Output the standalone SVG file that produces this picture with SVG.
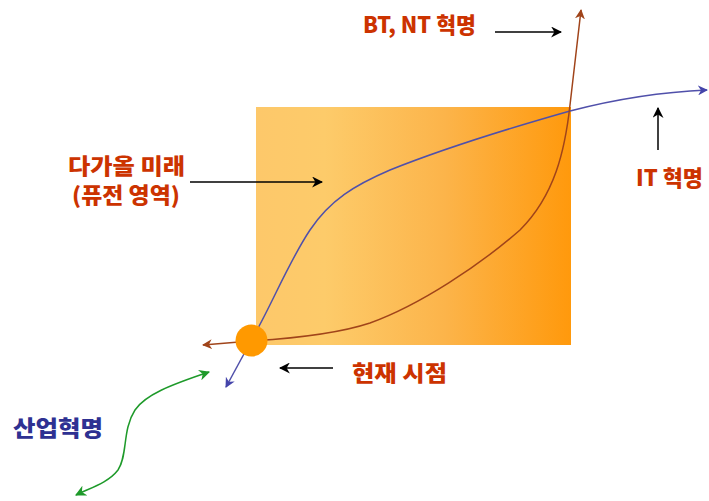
<svg xmlns="http://www.w3.org/2000/svg" width="709" height="501" viewBox="0 0 709 501">
<defs>
<linearGradient id="bg" x1="0" y1="0" x2="1" y2="0">
<stop offset="0" stop-color="#FDC86A"/>
<stop offset="0.22" stop-color="#FDCB6A"/>
<stop offset="0.6" stop-color="#FCB44A"/>
<stop offset="1" stop-color="#FF990C"/>
</linearGradient>
<marker id="ab" viewBox="0 0 10 10" refX="9" refY="5" markerWidth="10" markerHeight="10" markerUnits="userSpaceOnUse" orient="auto-start-reverse"><path d="M0,0 L10,5 L0,10 L3,5 Z" fill="#4444AA"/></marker>
<marker id="ar" viewBox="0 0 10 10" refX="9" refY="5" markerWidth="10" markerHeight="10" markerUnits="userSpaceOnUse" orient="auto-start-reverse"><path d="M0,0 L10,5 L0,10 L3,5 Z" fill="#A0441A"/></marker>
<marker id="ag" viewBox="0 0 10 10" refX="9" refY="5" markerWidth="11" markerHeight="11" markerUnits="userSpaceOnUse" orient="auto-start-reverse"><path d="M0,0 L10,5 L0,10 L3,5 Z" fill="#1E9A2A"/></marker>
<marker id="ak" viewBox="0 0 10 10" refX="9" refY="5" markerWidth="11" markerHeight="11" markerUnits="userSpaceOnUse" orient="auto"><path d="M0,0 L10,5 L0,10 L3,5 Z" fill="#000"/></marker>
</defs>
<style>
.t{font-family:"Noto Sans CJK KR","Noto Sans",sans-serif;font-weight:900;fill:#CC3300;font-size:22px}
.tb{fill:#2E3192}
.c{fill:none;stroke-width:1.5}
.k{stroke:#000;stroke-width:1.5;fill:none}
</style>
<rect x="256" y="107" width="315" height="238" fill="url(#bg)"/>
<g id="connectors">
<path class="c" stroke="#5050AA" d="M251,341 L257,330 C275,297 290,260 310,230 C330,200 355,185 390,170 C450,146 510,128 570,111 C620,98 660,92 707,90" marker-end="url(#ab)"/>
<path class="c" stroke="#5050AA" d="M251,341 L226,387" marker-end="url(#ab)"/>
<path class="c" stroke="#A0441A" d="M251,341 C300,338 340,333 370,323 C420,305 480,265 520,230 C555,195 565,150 570,105 L581,10" marker-end="url(#ar)"/>
<path class="c" stroke="#A0441A" d="M251,341 L203,345" marker-end="url(#ar)"/>
<path class="c" stroke="#1E9A2A" d="M209,372 C170,385 145,395 135,410 C122,430 128,455 118,470 C108,483 90,488 76,495" marker-start="url(#ag)" marker-end="url(#ag)"/>
<path class="k" d="M495,32 L561,32" marker-end="url(#ak)"/>
<path class="k" d="M658,150 L658,108" marker-end="url(#ak)"/>
<path class="k" d="M190,182 L322,182" marker-end="url(#ak)"/>
<path class="k" d="M333,368 L280,368" marker-end="url(#ak)"/>
</g>
<g id="now"><circle cx="251.5" cy="340.5" r="16" fill="#FF9900"/></g>
<g id="bt"><text class="t" x="363" y="33" textLength="113" lengthAdjust="spacingAndGlyphs">BT, NT 혁명</text></g>
<g id="it"><text class="t" x="636" y="186" textLength="67" lengthAdjust="spacingAndGlyphs">IT 혁명</text></g>
<g id="future"><text class="t" x="68" y="174" textLength="117" lengthAdjust="spacingAndGlyphs">다가올 미래</text>
<text class="t" x="72" y="203" textLength="108" lengthAdjust="spacingAndGlyphs">(퓨전 영역)</text></g>
<g id="present"><text class="t" x="352" y="381" textLength="95" lengthAdjust="spacingAndGlyphs">현재 시점</text></g>
<g id="industrial"><text class="t tb" x="13" y="436" textLength="90" lengthAdjust="spacingAndGlyphs">산업혁명</text></g>
</svg>
